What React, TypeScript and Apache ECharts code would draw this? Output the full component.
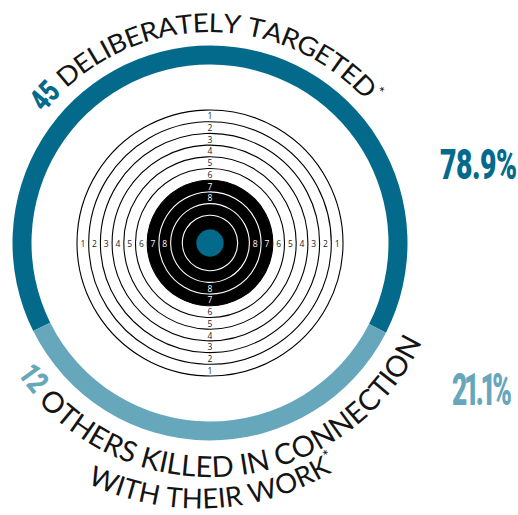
import React, { useEffect, useRef } from "react";
import * as echarts from "echarts";

// ---------------- data ----------------
const categories = ["Deliberately targeted", "Others killed in connection with their work"];
const counts = [45, 12];
const shareLabels = ["78.9%", "21.1%"];
// angular extent of each ring segment as it is drawn in the picture (degrees)
const ringArcDegrees = [233.5, 126.5];
const topTitle = "DELIBERATELY TARGETED";
const bottomTitle1 = "OTHERS KILLED IN CONNECTION";
const bottomTitle2 = "WITH THEIR WORK";
const targetScores = [1, 2, 3, 4, 5, 6, 7, 8];
const targetCircleCount = 10;

// ---------------- styles / layout ----------------
const DARK = "#036a8b";
const LIGHT = "#67a7bb";
const INK = "#141414";
const CX = 210;
const CY = 243;
const T_OUT = 133;
const T_STEP = 11.7;

let measureCtx: CanvasRenderingContext2D | null = null;
function textWidth(s: string, font: string): number {
  if (!measureCtx) measureCtx = document.createElement("canvas").getContext("2d");
  measureCtx!.font = font;
  return measureCtx!.measureText(s).width;
}

type Seg = {
  text: string;
  size: number;
  family: string;
  weight?: string;
  color: string;
  sx?: number;
  raise?: number;
  tightGap?: number; // fixed gap before this segment's first glyph
  lineHeight?: number;
};

function glyphs(segs: Seg[]) {
  const out: any[] = [];
  segs.forEach((s) => {
    const font = `${s.weight || "normal"} ${s.size}px ${s.family}`;
    const sx = s.sx ?? 1;
    let first = true;
    for (const ch of s.text) {
      out.push({
        ch,
        font,
        color: s.color,
        sx,
        raise: s.raise ?? 0,
        lh: s.lineHeight,
        w: textWidth(ch, font) * sx,
        tight: first && s.tightGap !== undefined ? s.tightGap : null,
      });
      first = false;
    }
  });
  return out;
}

function textEl(ch: string, font: string, fill: string, x: number, y: number, rotation: number, sx: number, lh?: number) {
  const style: any = {
    text: ch,
    font,
    fill,
    textAlign: "center",
    textVerticalAlign: "middle",
    align: "center",
    verticalAlign: "middle",
  };
  if (lh) style.lineHeight = lh;
  return { type: "text", x, y, rotation, scaleX: sx, silent: true, style };
}

function arcText(
  segs: Seg[],
  o: { cx: number; cy: number; r: number; mode: "top" | "bottom"; ia: number; degA: number; ib: number; degB: number }
) {
  const g = glyphs(segs);
  const n = g.length;
  let natural = 0;
  for (let i = o.ia + 1; i <= o.ib; i++) natural += (g[i - 1].w + g[i].w) / 2;
  const want = (o.r * (o.degB - o.degA) * Math.PI) / 180;
  const s = (want - natural) / (o.ib - o.ia);
  const gap = (i: number) => (g[i].tight !== null ? g[i].tight : s);
  const pos: number[] = new Array(n).fill(0);
  for (let i = o.ia + 1; i < n; i++) pos[i] = pos[i - 1] + (g[i - 1].w + g[i].w) / 2 + gap(i);
  for (let i = o.ia - 1; i >= 0; i--) pos[i] = pos[i + 1] - (g[i].w + g[i + 1].w) / 2 - gap(i + 1);
  const els: any[] = [];
  g.forEach((q, i) => {
    if (q.ch === " ") return;
    const ang = (o.degA * Math.PI) / 180 + pos[i] / o.r;
    let x: number, y: number, rot: number;
    if (o.mode === "top") {
      const rr = o.r + q.raise;
      x = o.cx + rr * Math.sin(ang);
      y = o.cy - rr * Math.cos(ang);
      rot = -ang;
    } else {
      const rr = o.r - q.raise;
      x = o.cx + rr * Math.sin(ang);
      y = o.cy + rr * Math.cos(ang);
      rot = ang;
    }
    els.push(textEl(q.ch, q.font, q.color, x, y, rot, q.sx, q.lh));
  });
  return els;
}

function fitLine(str: string, font: string, color: string, left: number, right: number, cy: number, track: number, oneFactor: number) {
  const chars = [...str];
  const raw = chars.map((ch) => textWidth(ch, font) * (ch === "1" ? oneFactor : 1));
  const sum = raw.reduce((a, b) => a + b, 0);
  const sx = (right - left - track * (chars.length - 1)) / sum;
  let x = left;
  const els: any[] = [];
  chars.forEach((ch, i) => {
    const w = raw[i] * sx;
    els.push(textEl(ch, font, color, x + w / 2, cy, 0, sx));
    x += w + track;
  });
  return els;
}

function buildOption() {
  const ringR = (k: number) => T_OUT - k * T_STEP;
  const els: any[] = [];

  // target
  els.push({ type: "circle", silent: true, shape: { cx: CX, cy: CY, r: ringR(6) }, style: { fill: "#000" } });
  for (let k = 0; k < targetCircleCount; k++) {
    els.push({
      type: "circle",
      silent: true,
      shape: { cx: CX, cy: CY, r: ringR(k) },
      style: { fill: "none", stroke: k >= 7 ? "#fff" : "#000", lineWidth: 1.1 },
    });
  }
  els.push({ type: "circle", silent: true, shape: { cx: CX, cy: CY, r: 13.7 }, style: { fill: DARK } });
  const lf = 'normal 8.5px "Open Sans"';
  targetScores.forEach((s) => {
    const r = ringR(s - 1) - T_STEP / 2;
    const c = s >= 7 ? "#fff" : "#222";
    els.push(textEl(String(s), lf, c, CX, CY - r, 0, 1));
    els.push(textEl(String(s), lf, c, CX, CY + r, 0, 1));
    els.push(textEl(String(s), lf, c, CX - r, CY, 0, 1));
    els.push(textEl(String(s), lf, c, CX + r, CY, 0, 1));
  });

  // curved titles
  const c0 = String(counts[0]);
  const topSegs: Seg[] = [
    { text: c0, size: 31, family: "Roboto", weight: "900", color: DARK, sx: 0.75 },
    { text: " " + topTitle, size: 26, family: "Lato", weight: "normal", color: INK, sx: 1.08 },
    { text: "*", size: 15, family: "Lato", color: INK, raise: 7, tightGap: 0 },
  ];
  const topN = c0.length + 1 + topTitle.length + 1;
  els.push(...arcText(topSegs, { cx: CX, cy: CY, r: 221, mode: "top", ia: c0.length + 1, degA: -40.1, ib: topN - 2, degB: 44.6 }));

  const c1 = String(counts[1]);
  const b1Segs: Seg[] = [
    { text: c1, size: 31, family: "Roboto", weight: "900", color: LIGHT, sx: 0.75 },
    { text: " " + bottomTitle1, size: 29, family: "Lato", weight: "normal", color: INK },
  ];
  const b1N = c1.length + 1 + bottomTitle1.length;
  els.push(...arcText(b1Segs, { cx: CX, cy: CY, r: 222.5, mode: "bottom", ia: c1.length + 1, degA: -44.6, ib: b1N - 1, degB: 62.3 }));

  const b2Segs: Seg[] = [
    { text: bottomTitle2, size: 27.5, family: "Lato", weight: "normal", color: INK, lineHeight: 22 },
    { text: "*", size: 16, family: "Lato", color: INK, raise: 7, tightGap: 0.5, lineHeight: 14 },
  ];
  const b2N = bottomTitle2.length + 1;
  els.push(...arcText(b2Segs, { cx: 199.5, cy: 249, r: 249, mode: "bottom", ia: 0, degA: -22.5, ib: b2N - 2, degB: 28.7 }));

  // percentages
  els.push(...fitLine(shareLabels[0], "900 42px Roboto", DARK, 440, 517, 165, -0.5, 0.62));
  els.push(...fitLine(shareLabels[1], "900 44px Roboto", LIGHT, 452, 512, 390, -0.5, 0.62));

  return {
    animation: false,
    series: [
      {
        type: "pie",
        center: [CX, CY],
        radius: [178.5, 197.5],
        startAngle: 206.5,
        clockwise: true,
        silent: true,
        label: { show: false },
        labelLine: { show: false },
        emphasis: { disabled: true },
        itemStyle: { borderWidth: 0 },
        data: categories.map((name, i) => ({
          name,
          value: ringArcDegrees[i],
          itemStyle: { color: i === 0 ? DARK : LIGHT },
        })),
      },
    ],
    graphic: { elements: els },
  };
}

export default function App() {
  const ref = useRef<HTMLDivElement>(null);
  useEffect(() => {
    document.body.style.margin = "0";
    const chart = echarts.init(ref.current!, null, { renderer: "svg" });
    chart.setOption(buildOption() as any);
    return () => chart.dispose();
  }, []);
  return <div ref={ref} style={{ width: 518, height: 515 }} />;
}
